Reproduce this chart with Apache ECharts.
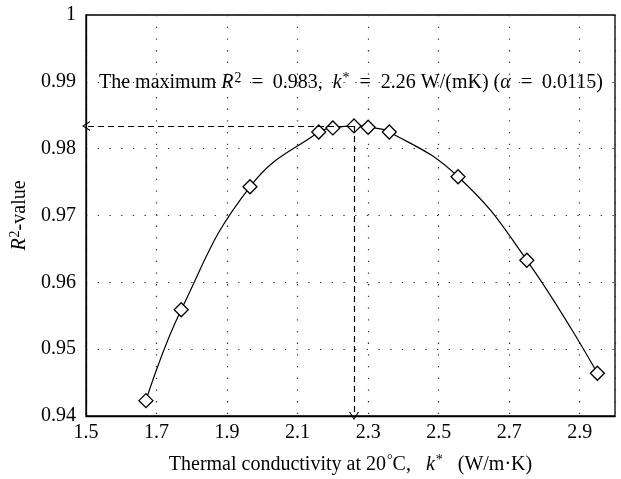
<!DOCTYPE html>
<html>
<head>
<meta charset="utf-8">
<script src="https://cdn.jsdelivr.net/npm/echarts@6/dist/echarts.min.js"></script>
<style>
  html, body { margin: 0; padding: 0; background: #fff; }
  #chart { width: 621px; height: 479px; }
</style>
</head>
<body>
<div id="chart"></div>
<script>
// Thermal conductivity k* (W/m·K) tried in the fit, and the R² each one gives
const conductivity = [1.67, 1.77, 1.965, 2.16, 2.20, 2.26, 2.30, 2.36, 2.555, 2.75, 2.95];
const r2Values = [0.9423, 0.9559, 0.9743, 0.9825, 0.9831, 0.9834, 0.9832, 0.9825, 0.9758, 0.9633, 0.9464];
const alphaAtPeak = 0.0115;

// Tick labels shown on each axis
const xTickLabels = ['1.5', '1.7', '1.9', '2.1', '2.3', '2.5', '2.7', '2.9'];
const yTickLabels = ['0.94', '0.95', '0.96', '0.97', '0.98', '0.99', '1'];

const FONT = '"Liberation Serif", "DejaVu Serif", serif';
const BASE = 20;

const peakIdx = r2Values.indexOf(Math.max(...r2Values));
const kPeak = conductivity[peakIdx];
const rPeak = r2Values[peakIdx];

function pickLabel(list, v) {
  const hit = list.find(t => Math.abs(parseFloat(t) - v) < 1e-6);
  return hit || '';
}

const richText = {
  it: { fontFamily: FONT, fontSize: BASE, fontStyle: 'italic', color: '#000', lineHeight: 26 },
  sup: { fontFamily: FONT, fontSize: 14, color: '#000', verticalAlign: 'top', lineHeight: 14, padding: [1, 0, 0, 1] },
  n: { fontFamily: FONT, fontSize: BASE, color: '#000', lineHeight: 26 }
};

const dotted = { color: '#333', width: 1.2, type: [1.3, 10.4] };
// open chevron pointing up; ECharts turns it along the line direction
const arrowHead = 'path://M5,0 L10,9 L8.8,9 L5,2.2 L1.2,9 L0,9 Z';

const chart = echarts.init(document.getElementById('chart'), null, { renderer: 'canvas' });

chart.setOption({
  animation: false,
  backgroundColor: '#fff',
  grid: {
    left: 86, right: 6, top: 15, bottom: 63,
    outerBoundsMode: 'none', containLabel: false,
    show: true, borderColor: '#000', borderWidth: 1.3, backgroundColor: 'transparent'
  },
  xAxis: {
    type: 'value', min: 1.5, max: 3.0, interval: 0.2,
    axisLine: { lineStyle: { color: '#000', width: 1.3 } },
    axisTick: { show: false },
    splitLine: { show: true, lineStyle: dotted },
    axisLabel: {
      fontFamily: FONT, fontSize: BASE, color: '#000', margin: 7,
      showMaxLabel: false,
      formatter: v => pickLabel(xTickLabels, v)
    },
    name: '{n|Thermal conductivity at 20}{sup|°}{n|C,   }{it|k}{sup|*}{n|   (W/m·K)}',
    nameLocation: 'middle', nameGap: 36,
    nameTextStyle: { fontFamily: FONT, fontSize: BASE, color: '#000', rich: richText }
  },
  yAxis: {
    type: 'value', min: 0.94, max: 1, interval: 0.01,
    axisLine: { show: true, lineStyle: { color: '#000', width: 1.3 } },
    axisTick: { show: false },
    splitLine: { show: true, lineStyle: dotted },
    axisLabel: {
      fontFamily: FONT, fontSize: BASE, color: '#000', margin: 10,
      formatter: v => pickLabel(yTickLabels, v)
    },
    name: '{it|R}{sup|2}{n|-value}',
    nameLocation: 'middle', nameGap: 50, nameRotate: 90,
    nameTextStyle: { fontFamily: FONT, fontSize: BASE, color: '#000', rich: richText }
  },
  series: [{
    type: 'line',
    data: conductivity.map((k, i) => [k, r2Values[i]]),
    smooth: 0.45,
    symbol: 'diamond',
    symbolSize: 14,
    showAllSymbol: true,
    lineStyle: { color: '#000', width: 1.2 },
    itemStyle: { color: '#fff', borderColor: '#000', borderWidth: 1.3 },
    z: 3,
    markLine: {
      silent: true,
      symbol: ['none', arrowHead],
      symbolSize: [10, 8],
      label: { show: false },
      lineStyle: { color: '#000', width: 1.2, type: [6, 4] },
      data: [
        [{ coord: [kPeak, rPeak] }, { coord: [1.5, rPeak] }],
        [{ coord: [kPeak, rPeak] }, { coord: [kPeak, 0.94] }]
      ]
    }
  }],
  graphic: [{
    type: 'text',
    left: 99, top: 70,
    z: 10,
    style: {
      text: '{n|The maximum }{it|R}{sup|2}{n|  =  ' + rPeak.toFixed(3) + ',  }{it|k}{sup|*}{n|  =  ' +
            kPeak.toFixed(2) + ' W/(mK) (}{it|α}{n|  =  ' + alphaAtPeak + ')}',
      rich: richText,
      fill: '#000'
    }
  }]
});
</script>
</body>
</html>
